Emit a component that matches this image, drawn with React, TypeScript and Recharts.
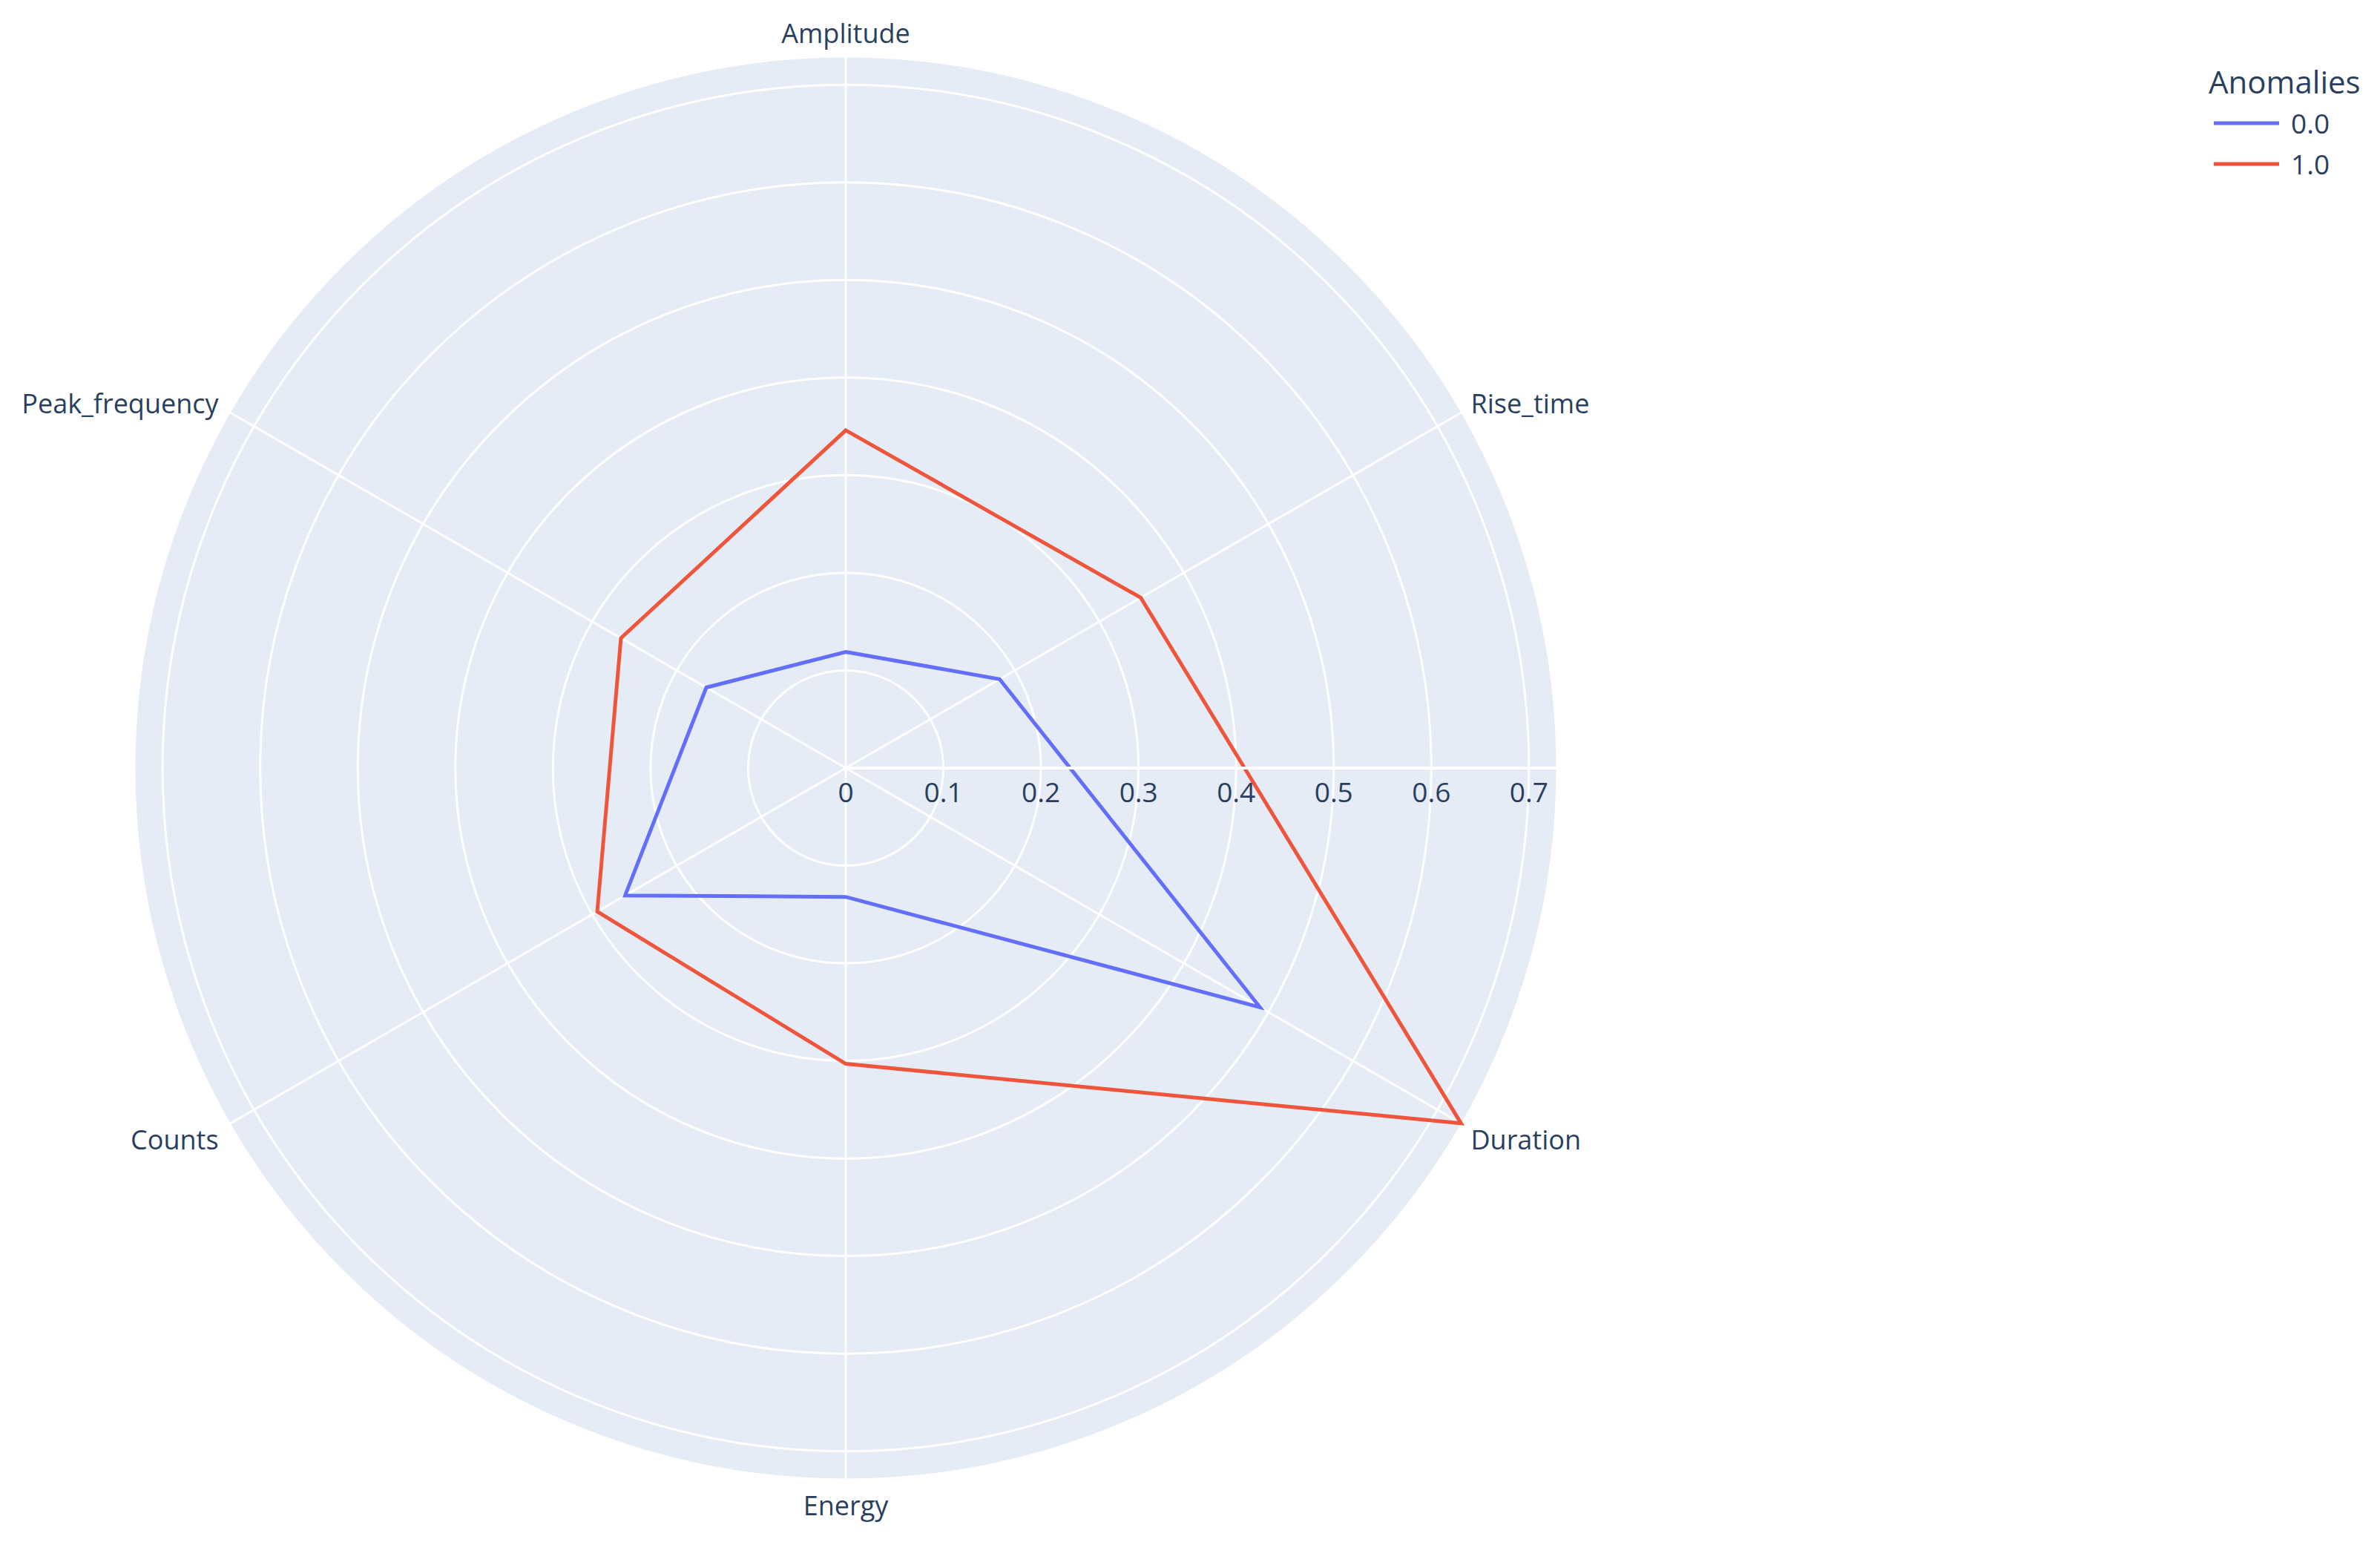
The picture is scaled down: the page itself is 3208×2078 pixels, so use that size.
import React from 'react';
import {
  RadarChart,
  Radar,
  PolarGrid,
  PolarAngleAxis,
  PolarRadiusAxis,
  Legend,
} from 'recharts';

// categories around the circle, clockwise from the top
const features = ['Amplitude', 'Rise_time', 'Duration', 'Energy', 'Counts', 'Peak_frequency'];

// mean values per anomaly class
const normalValues = [0.119, 0.182, 0.49, 0.132, 0.261, 0.165];
const anomalyValues = [0.346, 0.349, 0.728, 0.303, 0.294, 0.266];

const radiusTicks = [0, 0.1, 0.2, 0.3, 0.4, 0.5, 0.6, 0.7];
const radiusMax = 0.729; // visible edge of the polar area

const seriesNames = ['0.0', '1.0'];
const legendTitle = 'Anomalies';

const W = 3208;
const H = 2078;
const CX = 1140;
const CY = 1035;
const R = 959; // pixel radius of the polar area

// the radius axis here runs over [0, 1], so the chart radius is stretched
// so that radiusMax lands on R
const chartRadius = R / radiusMax;

const TEXT = '#2a3f5f';
const FONT = '"Open Sans", "Noto Sans", sans-serif';
const COLORS = ['#636efa', '#EF553B'];

const data = features.map((f, i) => ({
  feature: f,
  normal: normalValues[i],
  anomaly: anomalyValues[i],
}));

function AngleTick(props: any) {
  const { x, y, payload } = props;
  const len = Math.hypot(x - CX, y - CY) || 1;
  const bx = CX + ((x - CX) / len) * (R + 8);
  const by = CY + ((y - CY) / len) * (R + 8);
  const dx = bx - CX;
  const dy = by - CY;
  let tx = bx;
  let ty = by;
  let anchor: 'start' | 'middle' | 'end' = 'middle';
  if (Math.abs(dx) < 2) {
    ty = dy < 0 ? by - 24 : by + 26;
  } else {
    anchor = dx > 0 ? 'start' : 'end';
    tx = dx > 0 ? bx + 5 : bx - 8;
    ty = dy < 0 ? by - 8 : by + 17;
  }
  return (
    <text
      x={tx}
      y={ty}
      textAnchor={anchor}
      dominantBaseline="central"
      fill={TEXT}
      fontSize={36}
      fontFamily={FONT}
    >
      {payload.value}
    </text>
  );
}

function RadiusTick(props: any) {
  const { x, y, payload } = props;
  if (!radiusTicks.includes(payload.value)) return <g />;
  return (
    <text
      x={x}
      y={y + 31}
      textAnchor="middle"
      dominantBaseline="central"
      fill={TEXT}
      fontSize={37}
      fontFamily={FONT}
    >
      {payload.value}
    </text>
  );
}

function LegendBox(props: any) {
  const items = props.payload || [];
  return (
    <div style={{ fontFamily: FONT, color: TEXT, position: 'relative', width: 230, height: 170 }}>
      <div style={{ position: 'absolute', left: 0, top: 0, fontSize: 42, lineHeight: '56px', whiteSpace: 'nowrap' }}>
        {legendTitle}
      </div>
      {items.map((it: any, i: number) => (
        <div
          key={it.value}
          style={{ position: 'absolute', left: 0, top: 64 + i * 55, height: 40, width: 230 }}
        >
          <svg width={100} height={40} style={{ position: 'absolute', left: 0, top: 0 }}>
            <line x1={7} y1={20} x2={95} y2={20} stroke={it.color} strokeWidth={5} />
          </svg>
          <span
            style={{
              position: 'absolute',
              left: 111,
              top: 0,
              fontSize: 37,
              lineHeight: '40px',
              whiteSpace: 'nowrap',
            }}
          >
            {it.value}
          </span>
        </div>
      ))}
    </div>
  );
}

export default function App() {
  return (
    <div style={{ position: 'absolute', left: 0, top: 0, width: W, height: H, background: '#fff' }}>
      <div
        style={{
          position: 'absolute',
          left: CX - R,
          top: CY - R,
          width: 2 * R,
          height: 2 * R,
          borderRadius: '50%',
          background: '#E5ECF6',
        }}
      />
      <div style={{ position: 'absolute', left: 0, top: 0 }}>
        <RadarChart
          width={W}
          height={H}
          data={data}
          cx={CX}
          cy={CY}
          outerRadius={chartRadius}
          startAngle={90}
          endAngle={-270}
          margin={{ top: 0, right: 0, bottom: 0, left: 0 }}
        >
          <PolarGrid gridType="circle" stroke="#ffffff" strokeWidth={3} outerRadius={R} />
          <PolarAngleAxis
            dataKey="feature"
            tick={<AngleTick />}
            tickLine={false}
            axisLine={false}
          />
          <PolarRadiusAxis
            angle={0}
            domain={[0, 1]}
            ticks={[...radiusTicks, radiusMax]}
            tick={<RadiusTick />}
            tickLine={false}
            axisLine={{ stroke: '#ffffff', strokeWidth: 4 }}
          />
          <Radar
            name={seriesNames[0]}
            dataKey="normal"
            stroke={COLORS[0]}
            strokeWidth={5}
            fill="none"
            fillOpacity={0}
            isAnimationActive={false}
          />
          <Radar
            name={seriesNames[1]}
            dataKey="anomaly"
            stroke={COLORS[1]}
            strokeWidth={5}
            fill="none"
            fillOpacity={0}
            isAnimationActive={false}
          />
          <Legend
            content={<LegendBox />}
            wrapperStyle={{ position: 'absolute', left: 2977, top: 82, width: 230 }}
          />
        </RadarChart>
      </div>
    </div>
  );
}
